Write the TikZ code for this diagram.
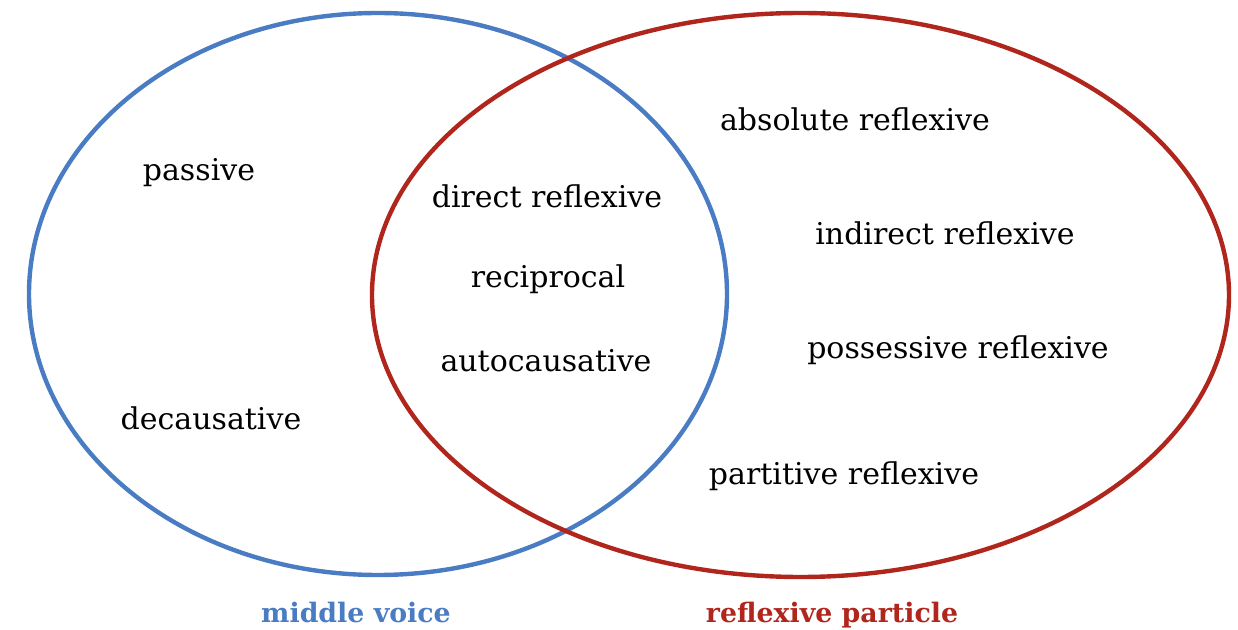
\documentclass[tikz,border=0pt]{standalone}
\usepackage{fontspec}
\setmainfont{DejaVu Serif}
\usetikzlibrary{positioning}
\definecolor{VoiceBlue}{HTML}{4A7CC4}
\definecolor{ParticleRed}{HTML}{B0261C}
\tikzset{
  sense/.style={anchor=base,inner sep=0pt,font=\fontsize{15pt}{18pt}\selectfont},
  setlabel/.style={anchor=base,inner sep=0pt,font=\fontsize{13.4pt}{16pt}\selectfont\bfseries}
}
\begin{document}
\begin{tikzpicture}[x=0.5pt,y=-0.5pt]
  \useasboundingbox (0,0) rectangle (1238,630);
  \draw[VoiceBlue,line width=2.2pt] (378,294) ellipse [x radius=349,y radius=281];
  \draw[ParticleRed,line width=2.2pt] (800.5,295) ellipse [x radius=428.5,y radius=282];
  % middle voice only
  \node[sense] (passive) at (199,181) {passive};
  \node[sense] (decaus) at (211,430) {decausative};
  % overlap
  \node[sense] (direct) at (547,208) {direct reflexive};
  \node[sense] (recip) at (548,288) {reciprocal};
  \node[sense] (autocaus) at (546,372) {autocausative};
  % reflexive particle only
  \node[sense] (absolute) at (855,131) {absolute reflexive};
  \node[sense] (indirect) at (945,245) {indirect reflexive};
  \node[sense] (possess) at (958,359) {possessive reflexive};
  \node[sense] (partit) at (844,485) {partitive reflexive};
  % set names
  \node[setlabel,text=VoiceBlue] (voice) at (356,623) {middle voice};
  \node[setlabel,text=ParticleRed] (particle) at (832,623) {reflexive particle};
\end{tikzpicture}
\end{document}
